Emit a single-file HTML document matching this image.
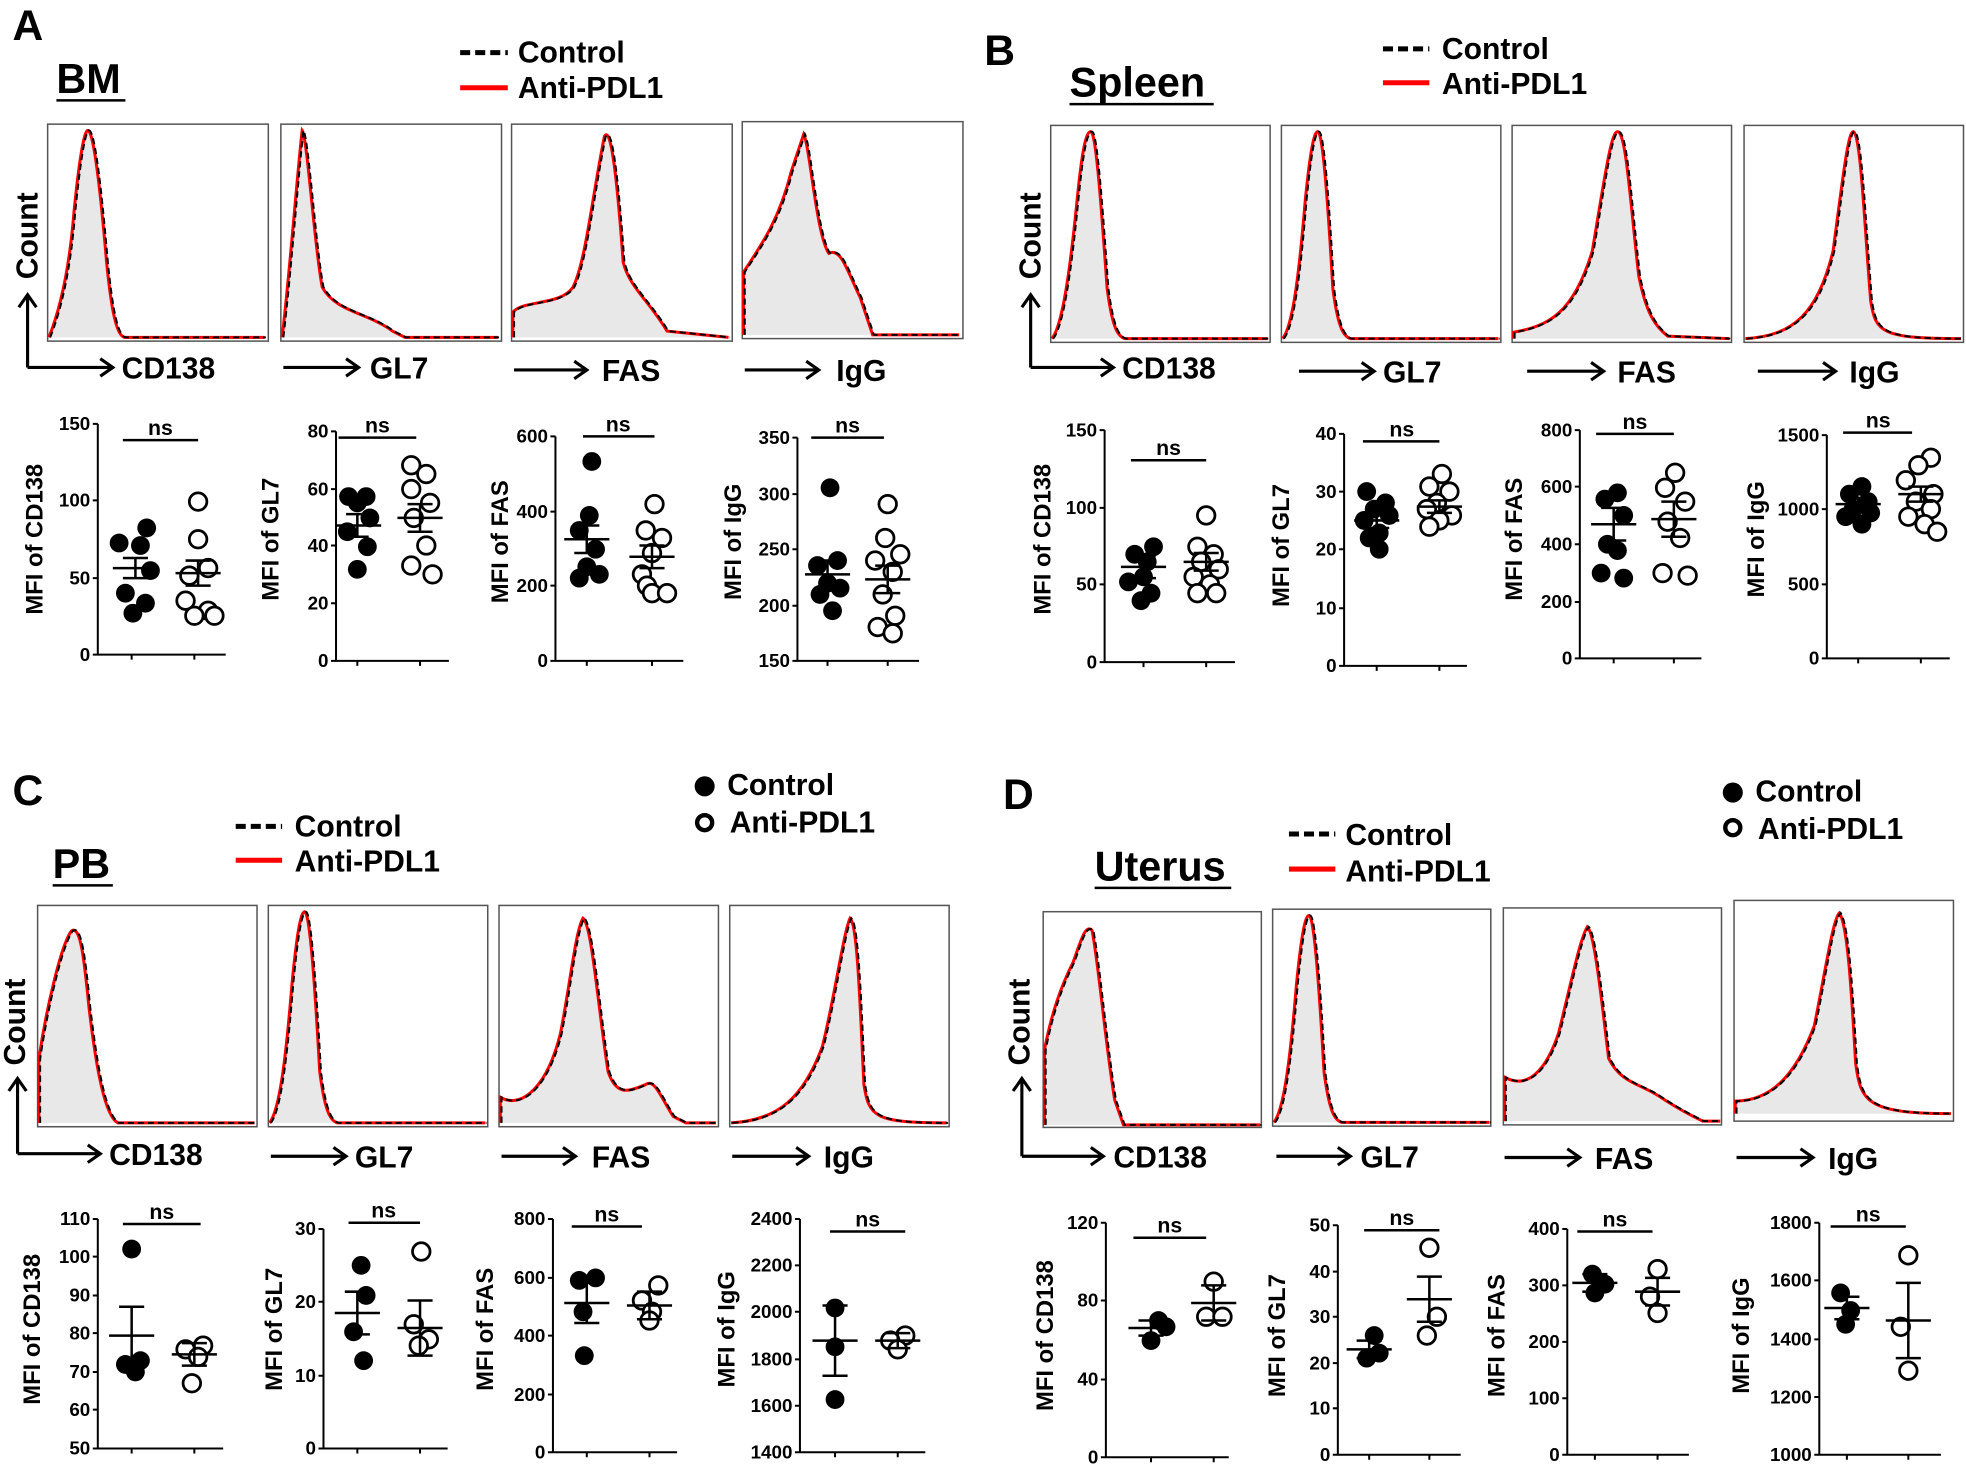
<!DOCTYPE html>
<html><head><meta charset="utf-8"><style>
html,body{margin:0;padding:0;background:#fff}
svg{display:block}
text{font-family:"Liberation Sans",Arial,sans-serif;font-weight:bold;fill:#000}
.t{font-size:15px;text-anchor:end}
.l{font-size:19px;text-anchor:middle}
.ns{font-size:17px;text-anchor:middle}
.h{font-size:24px}
.big{font-size:34px}
.ti{font-size:33px}
.ax{stroke:#000;stroke-width:1.6;fill:none}
.f{fill:#000}
.o{fill:#fff;stroke:#000;stroke-width:2.2}
.m{stroke:#000;stroke-width:2;fill:none}
.box{fill:none;stroke:#555;stroke-width:1.2}
.g{fill:#e8e8e8;stroke:none}
.r{fill:none;stroke:#f00;stroke-width:2.4}
.d{fill:none;stroke:#000;stroke-width:1.6;stroke-dasharray:5,3}
.arr{stroke:#000;stroke-width:2.5;fill:none}
</style></head><body>
<svg width="1966" height="1466" viewBox="0 0 1568 1169" preserveAspectRatio="none" xmlns="http://www.w3.org/2000/svg">
<defs>
<path id="a1" d="M2,170 C10,150 18,120 22,70 C26,30 30,5 33,5 C37,5 42,40 48,110 C52,150 56,168 62,170 L174,170"/>
<path id="a2" d="M2,170 C8,120 14,40 18,5 C22,10 28,100 34,130 C45,150 70,150 90,165 L100,170 L174,170"/>
<path id="a3" d="M2,170 L2,150 C10,140 40,145 50,130 C60,110 65,60 75,10 C80,0 85,40 90,110 C95,130 110,140 125,165 L174,170"/>
<path id="a4" d="M2,170 L2,120 C15,100 30,80 40,40 L50,10 C55,20 60,90 70,105 C80,100 85,120 95,140 L105,170 L174,170"/>
<path id="nl" d="M2,170 C10,160 15,120 20,60 C24,20 27,5 30,5 C34,5 38,60 42,130 C46,160 50,168 56,170 L174,170"/>
<path id="b1" d="M2,170 C10,160 16,120 22,60 C26,20 29,5 33,5 C37,5 41,60 46,130 C50,160 54,168 60,170 L174,170"/>
<path id="b3" d="M2,170 L2,165 C30,160 50,150 65,100 C75,40 80,5 85,5 C92,5 95,60 102,120 C108,150 115,160 125,168 L174,170"/>
<path id="b4" d="M2,170 C40,168 60,150 72,100 C80,40 84,5 88,5 C94,5 97,80 102,140 C106,165 110,170 174,170"/>
<path id="c1" d="M2,170 L2,120 C8,80 20,30 28,20 C35,15 38,40 42,80 C48,130 55,165 65,170 L174,170"/>
<path id="c3" d="M2,170 L2,150 C20,160 40,140 50,100 C58,60 62,20 68,10 C75,15 80,80 88,130 C95,150 105,145 118,140 C125,135 130,150 140,165 L150,170 L174,170"/>
<path id="c4" d="M2,170 C40,168 60,150 75,110 C85,70 92,20 97,10 C103,15 105,80 108,140 C112,165 116,170 174,170"/>
<path id="d1" d="M2,170 L2,110 C8,80 15,60 25,40 C32,20 35,10 40,15 C45,40 50,100 58,150 L65,170 L174,170"/>
<path id="d3" d="M2,170 L2,135 C20,145 35,130 45,100 C55,60 62,25 68,15 C74,20 80,80 85,120 C95,140 110,140 125,150 C140,160 150,165 160,170 L174,170"/>
<path id="d4" d="M2,170 L2,160 C30,160 50,140 65,100 C75,50 80,15 85,10 C92,20 95,80 98,130 C102,160 106,170 174,170"/>
</defs>

<!-- ===== Panel A ===== -->
<text x="10" y="32" class="big">A</text>
<text x="45" y="74" class="ti">BM</text><line x1="45" y1="80" x2="100" y2="80" class="m"/>
<line x1="367" y1="42" x2="405" y2="42" stroke="#000" stroke-width="4" stroke-dasharray="8,4"/><text x="413" y="50" class="h">Control</text>
<line x1="367" y1="70" x2="405" y2="70" stroke="#f00" stroke-width="4"/><text x="413" y="78" class="h">Anti-PDL1</text>
<g transform="translate(38,99)"><rect width="176" height="173" class="box"/><use href="#a1" class="g"/><use href="#a1" class="r" x="-1"/><use href="#a1" class="d"/></g>
<g transform="translate(224,99)"><rect width="176" height="173" class="box"/><use href="#a2" class="g"/><use href="#a2" class="r" x="-1"/><use href="#a2" class="d"/></g>
<g transform="translate(408,99)"><rect width="176" height="173" class="box"/><use href="#a3" class="g"/><use href="#a3" class="r" x="-1"/><use href="#a3" class="d"/></g>
<g transform="translate(592,97)"><rect width="176" height="173" class="box"/><use href="#a4" class="g"/><use href="#a4" class="r" x="-1"/><use href="#a4" class="d"/></g>
<path d="M22,293 L22,235 M15,245 L22,235 L29,245" class="arr"/><text transform="translate(30,188) rotate(-90)" class="h" text-anchor="middle">Count</text>
<path d="M22,293 L90,293 M80,286 L90,293 L80,300" class="arr"/><text x="97" y="302" class="h">CD138</text>
<path d="M226,293 L286,293 M276,286 L286,293 L276,300" class="arr"/><text x="295" y="302" class="h">GL7</text>
<path d="M410,295 L468,295 M458,288 L468,295 L458,302" class="arr"/><text x="480" y="304" class="h">FAS</text>
<path d="M594,295 L653,295 M643,288 L653,295 L643,302" class="arr"/><text x="667" y="304" class="h">IgG</text>

<!-- A1 -->
<path d="M78,338 V522 H180 M74,338H78 M74,399H78 M74,461H78 M74,522H78 M105,522v4 M155,522v4" class="ax"/>
<text x="72" y="343" class="t">150</text><text x="72" y="404" class="t">100</text><text x="72" y="466" class="t">50</text><text x="72" y="527" class="t">0</text>
<line x1="98" y1="351" x2="158" y2="351" class="m"/><text x="128" y="347" class="ns">ns</text>
<text transform="translate(34,430) rotate(-90)" class="l">MFI of CD138</text>
<circle cx="117" cy="421" r="7.5" class="f"/><circle cx="95" cy="433" r="7.5" class="f"/><circle cx="112" cy="435" r="7.5" class="f"/><circle cx="120" cy="455" r="7.5" class="f"/><circle cx="100" cy="473" r="7.5" class="f"/><circle cx="116" cy="481" r="7.5" class="f"/><circle cx="106" cy="489" r="7.5" class="f"/>
<circle cx="158" cy="400" r="7" class="o"/><circle cx="158" cy="430" r="7" class="o"/><circle cx="166" cy="453" r="7" class="o"/><circle cx="151" cy="459" r="7" class="o"/><circle cx="148" cy="479" r="7" class="o"/><circle cx="166" cy="487" r="7" class="o"/><circle cx="155" cy="491" r="7" class="o"/><circle cx="171" cy="491" r="7" class="o"/>
<path d="M90,453H126 M98,445H118 M98,461H118 M108,445V461 M140,457H176 M148,447H168 M148,467H168 M158,447V467" class="m"/>

<!-- A2 -->
<path d="M268,344 V527 H358 M264,344H268 M264,390H268 M264,435H268 M264,481H268 M264,527H268 M285,527v4 M335,527v4" class="ax"/>
<text x="262" y="349" class="t">80</text><text x="262" y="395" class="t">60</text><text x="262" y="440" class="t">40</text><text x="262" y="486" class="t">20</text><text x="262" y="532" class="t">0</text>
<line x1="270" y1="349" x2="332" y2="349" class="m"/><text x="301" y="345" class="ns">ns</text>
<text transform="translate(222,430) rotate(-90)" class="l">MFI of GL7</text>
<circle cx="278" cy="396" r="7.5" class="f"/><circle cx="292" cy="396" r="7.5" class="f"/><circle cx="285" cy="401" r="7.5" class="f"/><circle cx="295" cy="413" r="7.5" class="f"/><circle cx="277" cy="424" r="7.5" class="f"/><circle cx="293" cy="436" r="7.5" class="f"/><circle cx="285" cy="454" r="7.5" class="f"/>
<circle cx="328" cy="371" r="7" class="o"/><circle cx="340" cy="378" r="7" class="o"/><circle cx="328" cy="390" r="7" class="o"/><circle cx="343" cy="401" r="7" class="o"/><circle cx="330" cy="413" r="7" class="o"/><circle cx="340" cy="435" r="7" class="o"/><circle cx="328" cy="451" r="7" class="o"/><circle cx="345" cy="458" r="7" class="o"/>
<path d="M268,419H304 M276,410H294 M276,428H294 M285,410V428 M317,413H353 M325,402H345 M325,424H345 M335,402V424" class="m"/>

<!-- A3 -->
<path d="M443,348 V527 H545 M439,348H443 M439,408H443 M439,467H443 M439,527H443 M468,527v4 M520,527v4" class="ax"/>
<text x="437" y="353" class="t">600</text><text x="437" y="413" class="t">400</text><text x="437" y="472" class="t">200</text><text x="437" y="532" class="t">0</text>
<line x1="465" y1="348" x2="522" y2="348" class="m"/><text x="493" y="344" class="ns">ns</text>
<text transform="translate(405,432) rotate(-90)" class="l">MFI of FAS</text>
<circle cx="472" cy="368" r="7.5" class="f"/><circle cx="470" cy="411" r="7.5" class="f"/><circle cx="462" cy="423" r="7.5" class="f"/><circle cx="475" cy="438" r="7.5" class="f"/><circle cx="468" cy="452" r="7.5" class="f"/><circle cx="478" cy="458" r="7.5" class="f"/><circle cx="462" cy="461" r="7.5" class="f"/>
<circle cx="522" cy="402" r="7" class="o"/><circle cx="515" cy="423" r="7" class="o"/><circle cx="528" cy="429" r="7" class="o"/><circle cx="520" cy="441" r="7" class="o"/><circle cx="512" cy="458" r="7" class="o"/><circle cx="516" cy="467" r="7" class="o"/><circle cx="520" cy="473" r="7" class="o"/><circle cx="532" cy="473" r="7" class="o"/>
<path d="M450,430H486 M458,419H478 M458,441H478 M468,419V441 M502,444H538 M510,435H530 M510,453H530 M520,435V453" class="m"/>

<!-- A4 -->
<path d="M636,349 V527 H733 M632,349H636 M632,394H636 M632,438H636 M632,483H636 M632,527H636 M660,527v4 M708,527v4" class="ax"/>
<text x="630" y="354" class="t">350</text><text x="630" y="399" class="t">300</text><text x="630" y="443" class="t">250</text><text x="630" y="488" class="t">200</text><text x="630" y="532" class="t">150</text>
<line x1="647" y1="349" x2="705" y2="349" class="m"/><text x="676" y="345" class="ns">ns</text>
<text transform="translate(591,432) rotate(-90)" class="l">MFI of IgG</text>
<circle cx="662" cy="389" r="7.5" class="f"/><circle cx="668" cy="447" r="7.5" class="f"/><circle cx="652" cy="451" r="7.5" class="f"/><circle cx="660" cy="465" r="7.5" class="f"/><circle cx="670" cy="469" r="7.5" class="f"/><circle cx="654" cy="474" r="7.5" class="f"/><circle cx="664" cy="487" r="7.5" class="f"/>
<circle cx="708" cy="402" r="7" class="o"/><circle cx="706" cy="429" r="7" class="o"/><circle cx="718" cy="442" r="7" class="o"/><circle cx="698" cy="447" r="7" class="o"/><circle cx="712" cy="456" r="7" class="o"/><circle cx="704" cy="474" r="7" class="o"/><circle cx="714" cy="491" r="7" class="o"/><circle cx="700" cy="500" r="7" class="o"/><circle cx="712" cy="505" r="7" class="o"/>
<path d="M642,458H678 M650,447H670 M650,469H670 M660,447V469 M690,462H726 M698,451H718 M698,473H718 M708,451V473" class="m"/>

<!-- ===== Panel B ===== -->
<text x="785" y="52" class="big">B</text>
<text x="853" y="77" class="ti">Spleen</text><line x1="853" y1="83" x2="968" y2="83" class="m"/>
<line x1="1103" y1="39" x2="1140" y2="39" stroke="#000" stroke-width="4" stroke-dasharray="8,4"/><text x="1150" y="47" class="h">Control</text>
<line x1="1103" y1="66" x2="1140" y2="66" stroke="#f00" stroke-width="4"/><text x="1150" y="75" class="h">Anti-PDL1</text>
<g transform="translate(838,100)"><rect width="175" height="173" class="box"/><use href="#b1" class="g"/><use href="#b1" class="r" x="-1"/><use href="#b1" class="d"/></g>
<g transform="translate(1022,100)"><rect width="175" height="173" class="box"/><use href="#nl" class="g"/><use href="#nl" class="r" x="-1"/><use href="#nl" class="d"/></g>
<g transform="translate(1206,100)"><rect width="175" height="173" class="box"/><use href="#b3" class="g"/><use href="#b3" class="r" x="-1"/><use href="#b3" class="d"/></g>
<g transform="translate(1391,100)"><rect width="175" height="173" class="box"/><use href="#b4" class="g"/><use href="#b4" class="r" x="-1"/><use href="#b4" class="d"/></g>
<path d="M822,293 L822,235 M815,245 L822,235 L829,245" class="arr"/><text transform="translate(830,188) rotate(-90)" class="h" text-anchor="middle">Count</text>
<path d="M822,293 L888,293 M878,286 L888,293 L878,300" class="arr"/><text x="895" y="302" class="h">CD138</text>
<path d="M1036,296 L1096,296 M1086,289 L1096,296 L1086,303" class="arr"/><text x="1103" y="305" class="h">GL7</text>
<path d="M1218,296 L1279,296 M1269,289 L1279,296 L1269,303" class="arr"/><text x="1290" y="305" class="h">FAS</text>
<path d="M1402,296 L1464,296 M1454,289 L1464,296 L1454,303" class="arr"/><text x="1475" y="305" class="h">IgG</text>

<!-- B1 -->
<path d="M881,343 V528 H985 M877,343H881 M877,405H881 M877,466H881 M877,528H881 M912,528v4 M962,528v4" class="ax"/>
<text x="875" y="348" class="t">150</text><text x="875" y="410" class="t">100</text><text x="875" y="471" class="t">50</text><text x="875" y="533" class="t">0</text>
<line x1="902" y1="367" x2="962" y2="367" class="m"/><text x="932" y="363" class="ns">ns</text>
<text transform="translate(838,430) rotate(-90)" class="l">MFI of CD138</text>
<circle cx="920" cy="436" r="7.5" class="f"/><circle cx="905" cy="442" r="7.5" class="f"/><circle cx="915" cy="448" r="7.5" class="f"/><circle cx="912" cy="460" r="7.5" class="f"/><circle cx="900" cy="464" r="7.5" class="f"/><circle cx="918" cy="473" r="7.5" class="f"/><circle cx="910" cy="479" r="7.5" class="f"/>
<circle cx="962" cy="411" r="7" class="o"/><circle cx="955" cy="436" r="7" class="o"/><circle cx="968" cy="442" r="7" class="o"/><circle cx="958" cy="448" r="7" class="o"/><circle cx="972" cy="454" r="7" class="o"/><circle cx="952" cy="460" r="7" class="o"/><circle cx="965" cy="466" r="7" class="o"/><circle cx="955" cy="473" r="7" class="o"/><circle cx="970" cy="473" r="7" class="o"/>
<path d="M894,452H930 M902,443H922 M902,461H922 M912,443V461 M944,448H980 M952,441H972 M952,455H972 M962,441V455" class="m"/>

<!-- B2 -->
<path d="M1072,346 V531 H1170 M1068,346H1072 M1068,392H1072 M1068,438H1072 M1068,485H1072 M1068,531H1072 M1098,531v4 M1148,531v4" class="ax"/>
<text x="1066" y="351" class="t">40</text><text x="1066" y="397" class="t">30</text><text x="1066" y="443" class="t">20</text><text x="1066" y="490" class="t">10</text><text x="1066" y="536" class="t">0</text>
<line x1="1087" y1="352" x2="1148" y2="352" class="m"/><text x="1118" y="348" class="ns">ns</text>
<text transform="translate(1028,435) rotate(-90)" class="l">MFI of GL7</text>
<circle cx="1090" cy="392" r="7.5" class="f"/><circle cx="1105" cy="401" r="7.5" class="f"/><circle cx="1096" cy="406" r="7.5" class="f"/><circle cx="1108" cy="411" r="7.5" class="f"/><circle cx="1088" cy="415" r="7.5" class="f"/><circle cx="1100" cy="425" r="7.5" class="f"/><circle cx="1092" cy="429" r="7.5" class="f"/><circle cx="1100" cy="438" r="7.5" class="f"/>
<circle cx="1150" cy="378" r="7" class="o"/><circle cx="1140" cy="388" r="7" class="o"/><circle cx="1156" cy="392" r="7" class="o"/><circle cx="1146" cy="401" r="7" class="o"/><circle cx="1138" cy="406" r="7" class="o"/><circle cx="1158" cy="411" r="7" class="o"/><circle cx="1148" cy="415" r="7" class="o"/><circle cx="1140" cy="420" r="7" class="o"/>
<path d="M1080,415H1116 M1088,409H1108 M1088,421H1108 M1098,409V421 M1130,404H1166 M1138,399H1158 M1138,409H1158 M1148,399V409" class="m"/>

<!-- B3 -->
<path d="M1260,343 V525 H1357 M1256,343H1260 M1256,388H1260 M1256,434H1260 M1256,480H1260 M1256,525H1260 M1287,525v4 M1335,525v4" class="ax"/>
<text x="1254" y="348" class="t">800</text><text x="1254" y="393" class="t">600</text><text x="1254" y="439" class="t">400</text><text x="1254" y="485" class="t">200</text><text x="1254" y="530" class="t">0</text>
<line x1="1273" y1="346" x2="1335" y2="346" class="m"/><text x="1304" y="342" class="ns">ns</text>
<text transform="translate(1214,430) rotate(-90)" class="l">MFI of FAS</text>
<circle cx="1290" cy="393" r="7.5" class="f"/><circle cx="1280" cy="398" r="7.5" class="f"/><circle cx="1295" cy="411" r="7.5" class="f"/><circle cx="1282" cy="434" r="7.5" class="f"/><circle cx="1290" cy="439" r="7.5" class="f"/><circle cx="1277" cy="457" r="7.5" class="f"/><circle cx="1295" cy="461" r="7.5" class="f"/>
<circle cx="1336" cy="377" r="7" class="o"/><circle cx="1328" cy="389" r="7" class="o"/><circle cx="1344" cy="400" r="7" class="o"/><circle cx="1330" cy="416" r="7" class="o"/><circle cx="1340" cy="429" r="7" class="o"/><circle cx="1326" cy="457" r="7" class="o"/><circle cx="1346" cy="459" r="7" class="o"/>
<path d="M1269,418H1305 M1277,405H1297 M1277,431H1297 M1287,405V431 M1317,414H1353 M1325,400H1345 M1325,428H1345 M1335,400V428" class="m"/>

<!-- B4 -->
<path d="M1457,347 V525 H1555 M1453,347H1457 M1453,406H1457 M1453,466H1457 M1453,525H1457 M1482,525v4 M1532,525v4" class="ax"/>
<text x="1451" y="352" class="t">1500</text><text x="1451" y="411" class="t">1000</text><text x="1451" y="471" class="t">500</text><text x="1451" y="530" class="t">0</text>
<line x1="1470" y1="345" x2="1525" y2="345" class="m"/><text x="1498" y="341" class="ns">ns</text>
<text transform="translate(1407,430) rotate(-90)" class="l">MFI of IgG</text>
<circle cx="1485" cy="388" r="7.5" class="f"/><circle cx="1475" cy="394" r="7.5" class="f"/><circle cx="1490" cy="400" r="7.5" class="f"/><circle cx="1478" cy="406" r="7.5" class="f"/><circle cx="1492" cy="409" r="7.5" class="f"/><circle cx="1472" cy="412" r="7.5" class="f"/><circle cx="1485" cy="418" r="7.5" class="f"/>
<circle cx="1540" cy="365" r="7" class="o"/><circle cx="1530" cy="371" r="7" class="o"/><circle cx="1520" cy="383" r="7" class="o"/><circle cx="1542" cy="394" r="7" class="o"/><circle cx="1528" cy="400" r="7" class="o"/><circle cx="1540" cy="406" r="7" class="o"/><circle cx="1522" cy="412" r="7" class="o"/><circle cx="1535" cy="418" r="7" class="o"/><circle cx="1545" cy="424" r="7" class="o"/>
<path d="M1464,402H1500 M1472,397H1492 M1472,407H1492 M1482,397V407 M1514,394H1550 M1522,388H1542 M1522,400H1542 M1532,388V400" class="m"/>

<!-- ===== Panel C ===== -->
<text x="10" y="642" class="big">C</text>
<text x="42" y="700" class="ti">PB</text><line x1="42" y1="706" x2="90" y2="706" class="m"/>
<line x1="188" y1="659" x2="225" y2="659" stroke="#000" stroke-width="4" stroke-dasharray="8,4"/><text x="235" y="667" class="h">Control</text>
<line x1="188" y1="686" x2="225" y2="686" stroke="#f00" stroke-width="4"/><text x="235" y="695" class="h">Anti-PDL1</text>
<circle cx="562" cy="627" r="8" class="f"/><text x="580" y="634" class="h">Control</text>
<circle cx="562" cy="656" r="6" fill="#fff" stroke="#000" stroke-width="3.5"/><text x="582" y="664" class="h">Anti-PDL1</text>
<g transform="translate(30,722) scale(1,1.02)"><rect width="175" height="173" class="box"/><use href="#c1" class="g"/><use href="#c1" class="r" x="-1"/><use href="#c1" class="d"/></g>
<g transform="translate(214,722) scale(1,1.02)"><rect width="175" height="173" class="box"/><use href="#nl" class="g"/><use href="#nl" class="r" x="-1"/><use href="#nl" class="d"/></g>
<g transform="translate(398,722) scale(1,1.02)"><rect width="175" height="173" class="box"/><use href="#c3" class="g"/><use href="#c3" class="r" x="-1"/><use href="#c3" class="d"/></g>
<g transform="translate(582,722) scale(1,1.02)"><rect width="175" height="173" class="box"/><use href="#c4" class="g"/><use href="#c4" class="r" x="-1"/><use href="#c4" class="d"/></g>
<path d="M14,920 L14,860 M7,870 L14,860 L21,870" class="arr"/><text transform="translate(20,815) rotate(-90)" class="h" text-anchor="middle">Count</text>
<path d="M14,920 L80,920 M70,913 L80,920 L70,927" class="arr"/><text x="87" y="929" class="h">CD138</text>
<path d="M216,922 L276,922 M266,915 L276,922 L266,929" class="arr"/><text x="283" y="931" class="h">GL7</text>
<path d="M400,922 L459,922 M449,915 L459,922 L449,929" class="arr"/><text x="472" y="931" class="h">FAS</text>
<path d="M584,922 L645,922 M635,915 L645,922 L635,929" class="arr"/><text x="657" y="931" class="h">IgG</text>

<!-- C1 -->
<path d="M78,972 V1155 H178 M74,972H78 M74,1002H78 M74,1033H78 M74,1063H78 M74,1094H78 M74,1124H78 M74,1155H78 M105,1155v4 M155,1155v4" class="ax"/>
<text x="72" y="977" class="t">110</text><text x="72" y="1007" class="t">100</text><text x="72" y="1038" class="t">90</text><text x="72" y="1068" class="t">80</text><text x="72" y="1099" class="t">70</text><text x="72" y="1129" class="t">60</text><text x="72" y="1160" class="t">50</text>
<line x1="98" y1="976" x2="160" y2="976" class="m"/><text x="129" y="972" class="ns">ns</text>
<text transform="translate(32,1060) rotate(-90)" class="l">MFI of CD138</text>
<circle cx="105" cy="996" r="7.5" class="f"/><circle cx="112" cy="1085" r="7.5" class="f"/><circle cx="100" cy="1088" r="7.5" class="f"/><circle cx="108" cy="1094" r="7.5" class="f"/>
<circle cx="162" cy="1073" r="7" class="o"/><circle cx="148" cy="1076" r="7" class="o"/><circle cx="158" cy="1082" r="7" class="o"/><circle cx="153" cy="1103" r="7" class="o"/>
<path d="M87,1065H123 M95,1042H115 M95,1088H115 M105,1042V1088 M137,1080H173 M145,1071H165 M145,1089H165 M155,1071V1089" class="m"/>

<!-- C2 -->
<path d="M258,980 V1155 H357 M254,980H258 M254,1038H258 M254,1097H258 M254,1155H258 M285,1155v4 M335,1155v4" class="ax"/>
<text x="252" y="985" class="t">30</text><text x="252" y="1043" class="t">20</text><text x="252" y="1102" class="t">10</text><text x="252" y="1160" class="t">0</text>
<line x1="278" y1="975" x2="335" y2="975" class="m"/><text x="306" y="971" class="ns">ns</text>
<text transform="translate(225,1060) rotate(-90)" class="l">MFI of GL7</text>
<circle cx="288" cy="1009" r="7.5" class="f"/><circle cx="292" cy="1033" r="7.5" class="f"/><circle cx="282" cy="1062" r="7.5" class="f"/><circle cx="290" cy="1085" r="7.5" class="f"/>
<circle cx="336" cy="998" r="7" class="o"/><circle cx="330" cy="1056" r="7" class="o"/><circle cx="342" cy="1068" r="7" class="o"/><circle cx="334" cy="1073" r="7" class="o"/>
<path d="M267,1047H303 M275,1030H295 M275,1064H295 M285,1030V1064 M317,1059H353 M325,1037H345 M325,1081H345 M335,1037V1081" class="m"/>

<!-- C3 -->
<path d="M441,972 V1158 H540 M437,972H441 M437,1019H441 M437,1065H441 M437,1112H441 M437,1158H441 M468,1158v4 M518,1158v4" class="ax"/>
<text x="435" y="977" class="t">800</text><text x="435" y="1024" class="t">600</text><text x="435" y="1070" class="t">400</text><text x="435" y="1117" class="t">200</text><text x="435" y="1163" class="t">0</text>
<line x1="456" y1="978" x2="512" y2="978" class="m"/><text x="484" y="974" class="ns">ns</text>
<text transform="translate(393,1060) rotate(-90)" class="l">MFI of FAS</text>
<circle cx="475" cy="1019" r="7.5" class="f"/><circle cx="462" cy="1021" r="7.5" class="f"/><circle cx="465" cy="1046" r="7.5" class="f"/><circle cx="466" cy="1081" r="7.5" class="f"/>
<circle cx="525" cy="1025" r="7" class="o"/><circle cx="512" cy="1037" r="7" class="o"/><circle cx="520" cy="1046" r="7" class="o"/><circle cx="518" cy="1053" r="7" class="o"/>
<path d="M450,1039H486 M458,1023H478 M458,1055H478 M468,1023V1055 M500,1041H536 M508,1030H528 M508,1052H528 M518,1030V1052" class="m"/>

<!-- C4 -->
<path d="M638,972 V1158 H738 M634,972H638 M634,1009H638 M634,1046H638 M634,1084H638 M634,1121H638 M634,1158H638 M666,1158v4 M716,1158v4" class="ax"/>
<text x="632" y="977" class="t">2400</text><text x="632" y="1014" class="t">2200</text><text x="632" y="1051" class="t">2000</text><text x="632" y="1089" class="t">1800</text><text x="632" y="1126" class="t">1600</text><text x="632" y="1163" class="t">1400</text>
<line x1="662" y1="982" x2="722" y2="982" class="m"/><text x="692" y="978" class="ns">ns</text>
<text transform="translate(586,1060) rotate(-90)" class="l">MFI of IgG</text>
<circle cx="666" cy="1043" r="7.5" class="f"/><circle cx="666" cy="1074" r="7.5" class="f"/><circle cx="666" cy="1116" r="7.5" class="f"/>
<circle cx="722" cy="1065" r="7" class="o"/><circle cx="710" cy="1069" r="7" class="o"/><circle cx="716" cy="1076" r="7" class="o"/>
<path d="M648,1069H684 M656,1041H676 M656,1097H676 M666,1041V1097 M698,1069H734 M706,1063H726 M706,1075H726 M716,1063V1075" class="m"/>

<!-- ===== Panel D ===== -->
<text x="800" y="645" class="big">D</text>
<text x="873" y="702" class="ti">Uterus</text><line x1="873" y1="708" x2="982" y2="708" class="m"/>
<line x1="1028" y1="665" x2="1065" y2="665" stroke="#000" stroke-width="4" stroke-dasharray="8,4"/><text x="1073" y="674" class="h">Control</text>
<line x1="1028" y1="693" x2="1065" y2="693" stroke="#f00" stroke-width="4"/><text x="1073" y="703" class="h">Anti-PDL1</text>
<circle cx="1382" cy="632" r="8" class="f"/><text x="1400" y="639" class="h">Control</text>
<circle cx="1382" cy="660" r="6" fill="#fff" stroke="#000" stroke-width="3.5"/><text x="1402" y="669" class="h">Anti-PDL1</text>
<g transform="translate(832,727)"><rect width="174" height="172" class="box"/><use href="#d1" class="g"/><use href="#d1" class="r" x="-1"/><use href="#d1" class="d"/></g>
<g transform="translate(1015,725)"><rect width="174" height="173" class="box"/><use href="#nl" class="g"/><use href="#nl" class="r" x="-1"/><use href="#nl" class="d"/></g>
<g transform="translate(1199,724)"><rect width="174" height="173" class="box"/><use href="#d3" class="g"/><use href="#d3" class="r" x="-1"/><use href="#d3" class="d"/></g>
<g transform="translate(1383,718)"><rect width="175" height="176" class="box"/><use href="#d4" class="g"/><use href="#d4" class="r" x="-1"/><use href="#d4" class="d"/></g>
<path d="M815,922 L815,860 M808,870 L815,860 L822,870" class="arr"/><text transform="translate(821,815) rotate(-90)" class="h" text-anchor="middle">Count</text>
<path d="M815,922 L880,922 M870,915 L880,922 L870,929" class="arr"/><text x="888" y="931" class="h">CD138</text>
<path d="M1018,922 L1077,922 M1067,915 L1077,922 L1067,929" class="arr"/><text x="1085" y="931" class="h">GL7</text>
<path d="M1200,923 L1260,923 M1250,916 L1260,923 L1250,930" class="arr"/><text x="1272" y="932" class="h">FAS</text>
<path d="M1385,923 L1446,923 M1436,916 L1446,923 L1436,930" class="arr"/><text x="1458" y="932" class="h">IgG</text>

<!-- D1 -->
<path d="M882,975 V1162 H980 M878,975H882 M878,1037H882 M878,1100H882 M878,1162H882 M918,1162v4 M968,1162v4" class="ax"/>
<text x="876" y="980" class="t">120</text><text x="876" y="1042" class="t">80</text><text x="876" y="1105" class="t">40</text><text x="876" y="1167" class="t">0</text>
<line x1="904" y1="987" x2="962" y2="987" class="m"/><text x="933" y="983" class="ns">ns</text>
<text transform="translate(840,1065) rotate(-90)" class="l">MFI of CD138</text>
<circle cx="924" cy="1053" r="7.5" class="f"/><circle cx="930" cy="1058" r="7.5" class="f"/><circle cx="918" cy="1069" r="7.5" class="f"/>
<circle cx="968" cy="1022" r="7" class="o"/><circle cx="962" cy="1050" r="7" class="o"/><circle cx="975" cy="1050" r="7" class="o"/>
<path d="M900,1059H936 M908,1053H928 M908,1065H928 M918,1053V1065 M950,1039H986 M958,1025H978 M958,1053H978 M968,1025V1053" class="m"/>

<!-- D2 -->
<path d="M1067,977 V1160 H1165 M1063,977H1067 M1063,1014H1067 M1063,1050H1067 M1063,1087H1067 M1063,1123H1067 M1063,1160H1067 M1092,1160v4 M1140,1160v4" class="ax"/>
<text x="1061" y="982" class="t">50</text><text x="1061" y="1019" class="t">40</text><text x="1061" y="1055" class="t">30</text><text x="1061" y="1092" class="t">20</text><text x="1061" y="1128" class="t">10</text><text x="1061" y="1165" class="t">0</text>
<line x1="1088" y1="981" x2="1148" y2="981" class="m"/><text x="1118" y="977" class="ns">ns</text>
<text transform="translate(1025,1065) rotate(-90)" class="l">MFI of GL7</text>
<circle cx="1096" cy="1065" r="7.5" class="f"/><circle cx="1100" cy="1079" r="7.5" class="f"/><circle cx="1090" cy="1083" r="7.5" class="f"/>
<circle cx="1140" cy="995" r="7" class="o"/><circle cx="1146" cy="1050" r="7" class="o"/><circle cx="1138" cy="1065" r="7" class="o"/>
<path d="M1074,1076H1110 M1082,1069H1102 M1082,1083H1102 M1092,1069V1083 M1122,1036H1158 M1130,1018H1150 M1130,1054H1150 M1140,1018V1054" class="m"/>

<!-- D3 -->
<path d="M1250,980 V1160 H1347 M1246,980H1250 M1246,1025H1250 M1246,1070H1250 M1246,1115H1250 M1246,1160H1250 M1272,1160v4 M1322,1160v4" class="ax"/>
<text x="1244" y="985" class="t">400</text><text x="1244" y="1030" class="t">300</text><text x="1244" y="1075" class="t">200</text><text x="1244" y="1120" class="t">100</text><text x="1244" y="1165" class="t">0</text>
<line x1="1258" y1="982" x2="1318" y2="982" class="m"/><text x="1288" y="978" class="ns">ns</text>
<text transform="translate(1200,1065) rotate(-90)" class="l">MFI of FAS</text>
<circle cx="1270" cy="1016" r="7.5" class="f"/><circle cx="1280" cy="1024" r="7.5" class="f"/><circle cx="1272" cy="1031" r="7.5" class="f"/>
<circle cx="1322" cy="1012" r="7" class="o"/><circle cx="1316" cy="1034" r="7" class="o"/><circle cx="1322" cy="1047" r="7" class="o"/>
<path d="M1254,1023H1290 M1262,1016H1282 M1262,1030H1282 M1272,1016V1030 M1304,1030H1340 M1312,1019H1332 M1312,1041H1332 M1322,1019V1041" class="m"/>

<!-- D4 -->
<path d="M1451,975 V1160 H1548 M1447,975H1451 M1447,1021H1451 M1447,1068H1451 M1447,1114H1451 M1447,1160H1451 M1473,1160v4 M1522,1160v4" class="ax"/>
<text x="1445" y="980" class="t">1800</text><text x="1445" y="1026" class="t">1600</text><text x="1445" y="1073" class="t">1400</text><text x="1445" y="1119" class="t">1200</text><text x="1445" y="1165" class="t">1000</text>
<line x1="1460" y1="978" x2="1520" y2="978" class="m"/><text x="1490" y="974" class="ns">ns</text>
<text transform="translate(1395,1065) rotate(-90)" class="l">MFI of IgG</text>
<circle cx="1468" cy="1031" r="7.5" class="f"/><circle cx="1476" cy="1045" r="7.5" class="f"/><circle cx="1472" cy="1056" r="7.5" class="f"/>
<circle cx="1522" cy="1001" r="7" class="o"/><circle cx="1516" cy="1058" r="7" class="o"/><circle cx="1522" cy="1093" r="7" class="o"/>
<path d="M1455,1043H1491 M1463,1034H1483 M1463,1052H1483 M1473,1034V1052 M1504,1053H1540 M1512,1023H1532 M1512,1083H1532 M1522,1023V1083" class="m"/>
</svg>
</body></html>
